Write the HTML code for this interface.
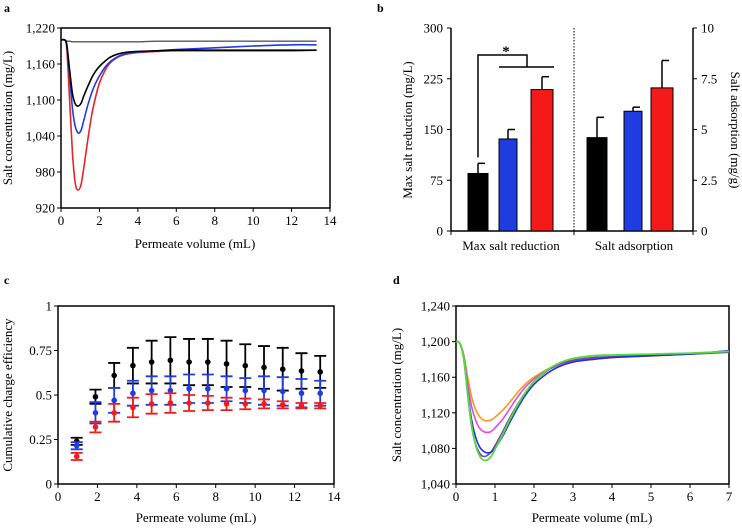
<!DOCTYPE html>
<html><head><meta charset="utf-8"><style>
body{margin:0;background:#fff}
svg{display:block;font-family:"Liberation Serif",serif}
text{fill:#000}
.t{font-size:13px}
</style></head><body>
<svg id="s" width="742" height="531" viewBox="0 0 742 531">
<text x="4" y="12" font-weight="bold" font-size="12">a</text>
<text x="377" y="12" font-weight="bold" font-size="12">b</text>
<text x="4" y="284" font-weight="bold" font-size="12">c</text>
<text x="393" y="284" font-weight="bold" font-size="12">d</text>
</svg>
<script>
// ---- Panel a data ----
const aX=[0,0.2,0.3,0.45,0.6,0.75,0.9,1.05,1.2,1.4,1.6,1.8,2.0,2.3,2.6,3,3.5,4,5,6,8,10,12,13.3];
const aRed=[1200,1200,1185,1100,1010,960,950,960,990,1035,1075,1105,1128,1150,1163,1172,1177,1179,1181,1182,1182,1182,1182,1183];
const aBlue=[1200,1200,1190,1140,1085,1055,1045,1050,1068,1092,1112,1128,1140,1155,1165,1173,1178,1180,1182,1184,1187,1190,1192,1192];
const aBlack=[1200,1200,1192,1150,1110,1093,1090,1095,1108,1123,1137,1148,1156,1165,1172,1177,1180,1181,1182,1183,1183,1183,1183,1183];
const aGray=[1200,1200,1198,1198,1197,1197,1197,1197,1197,1197,1197,1197,1197,1197,1197,1197,1197,1197,1198,1198,1198,1198,1198,1198];
const aYTicks=[920,980,1040,1100,1160,1220];
const aXTicks=[0,2,4,6,8,10,12,14];
// ---- Panel b data ----
const bReduction=[85,136,209];
const bReductionErr=[15,14,19];
const bAdsorption=[4.6,5.9,7.05];
const bAdsorptionErr=[1.0,0.2,1.35];
const bLeftTicks=[0,75,150,225,300];
const bRightTicks=[0,2.5,5,7.5,10];
// ---- Panel c data ----
const cX=[0.95,1.9,2.85,3.8,4.75,5.7,6.65,7.6,8.55,9.5,10.45,11.4,12.35,13.3];
const cBlack=[0.24,0.49,0.61,0.665,0.685,0.695,0.685,0.685,0.675,0.665,0.655,0.645,0.635,0.63];
const cBlackErr=[0.02,0.04,0.07,0.1,0.12,0.13,0.13,0.13,0.13,0.12,0.12,0.12,0.1,0.09];
const cBlue=[0.215,0.40,0.47,0.51,0.525,0.525,0.535,0.535,0.535,0.525,0.525,0.52,0.51,0.51];
const cBlueErr=[0.02,0.06,0.07,0.07,0.08,0.08,0.08,0.08,0.07,0.07,0.08,0.08,0.08,0.07];
const cRed=[0.155,0.32,0.40,0.43,0.45,0.455,0.455,0.455,0.45,0.45,0.45,0.445,0.44,0.44];
const cRedErr=[0.02,0.03,0.05,0.055,0.055,0.055,0.045,0.04,0.035,0.03,0.025,0.02,0.015,0.015];
const cYTicks=[0,0.25,0.5,0.75,1];
const cYLabels=["0","0.25","0.5","0.75","1"];
const cXTicks=[0,2,4,6,8,10,12,14];
// ---- Panel d data ----
const dX=[0,0.1,0.2,0.3,0.4,0.5,0.6,0.7,0.8,0.9,1.0,1.2,1.4,1.6,1.8,2.0,2.3,2.6,3,3.5,4,5,6,7];
const dOrange=[1200,1198,1185,1160,1138,1124,1116,1112,1111,1112,1115,1123,1133,1144,1153,1160,1168,1174,1178,1180,1182,1184,1186,1189];
const dPink=[1200,1198,1183,1153,1127,1112,1103,1099,1098,1099,1103,1113,1126,1139,1150,1158,1167,1173,1178,1181,1183,1185,1186,1189];
const dBlue=[1200,1198,1182,1145,1112,1093,1082,1077,1075,1076,1080,1094,1111,1127,1141,1152,1163,1171,1177,1180,1182,1184,1186,1190];
const dPurple=[1200,1198,1180,1140,1105,1085,1075,1071,1072,1076,1083,1099,1116,1131,1144,1155,1166,1174,1179,1182,1183,1185,1186,1188];
const dGreen=[1200,1198,1181,1142,1106,1084,1072,1067,1067,1071,1079,1096,1114,1130,1144,1155,1167,1175,1181,1184,1185,1186,1187,1189];
const dYTicks=[1040,1080,1120,1160,1200,1240];
const dXTicks=[0,1,2,3,4,5,6,7];

const S=document.getElementById('s');
const NS='http://www.w3.org/2000/svg';
function mk(tag,attrs,txt){const e=document.createElementNS(NS,tag);for(const k in attrs)e.setAttribute(k,attrs[k]);if(txt!==undefined)e.textContent=txt;S.appendChild(e);return e;}
function lin(d0,d1,r0,r1){return v=>r0+(v-d0)/(d1-d0)*(r1-r0);}
function fmt(v){return v>=1000?v.toLocaleString('en-US'):String(v);}
function smooth(xs,ys,sx,sy){
  const p=xs.map((x,i)=>[sx(x),sy(ys[i])]);
  let d='M'+p[0][0].toFixed(1)+','+p[0][1].toFixed(1);
  for(let i=0;i<p.length-1;i++){
    const p0=p[Math.max(0,i-1)],p1=p[i],p2=p[i+1],p3=p[Math.min(p.length-1,i+2)];
    const c1=[p1[0]+(p2[0]-p0[0])/6,p1[1]+(p2[1]-p0[1])/6];
    const c2=[p2[0]-(p3[0]-p1[0])/6,p2[1]-(p3[1]-p1[1])/6];
    d+='C'+c1.map(v=>v.toFixed(1))+' '+c2.map(v=>v.toFixed(1))+' '+p2.map(v=>v.toFixed(1));
  }
  return d;
}
function axes(sx,sy,x0,x1,y0,y1,xt,yt,ylab,pfx,xlab,ylabTitle,xtc,ytc){
  let e=mk('rect',{x:x0,y:y1,width:x1-x0,height:y0-y1,fill:'none',stroke:'#000','stroke-width':1.5});
  
  
  xt.forEach(v=>{const x=sx(v);
    e=mk('line',{x1:x,x2:x,y1:y0,y2:y0+4,stroke:'#000'});
    
    
    e=mk('text',{x:x,y:y0+17,'text-anchor':'middle',class:'t'},String(v));
    
    });
  yt.forEach((v,i)=>{const y=sy(v);
    e=mk('line',{x1:x0-4,x2:x0,y1:y,y2:y,stroke:'#000'});
    
    
    e=mk('text',{x:x0-6,y:y+4.5,'text-anchor':'end',class:'t'},ylab?ylab[i]:fmt(v));
    
    });
  e=mk('text',{x:xtc[0],y:xtc[1],'text-anchor':'middle',class:'t'},xlab);
  
  
  e=mk('text',{x:0,y:0,'text-anchor':'middle',class:'t',transform:`translate(${ytc[0]},${ytc[1]}) rotate(-90)`},ylabTitle);
  
  
}
function curve(xs,ys,sx,sy,color,name,w){
  const e=mk('path',{d:smooth(xs,ys,sx,sy),fill:'none',stroke:color,'stroke-width':w||1.6});
  
  
}
// Panel a
(function(){
  const sx=lin(0,14,61,330), sy=lin(920,1220,208,28);
  axes(sx,sy,61,330,208,28,aXTicks,aYTicks,null,'a','Permeate volume (mL)','Salt concentration (mg/L)',[195,248],[12,118]);
  curve(aX,aGray,sx,sy,'#556','a-series-gray',1.4);
  curve(aX,aRed,sx,sy,'#e8232a','a-series-red');
  curve(aX,aBlue,sx,sy,'#1f3ce0','a-series-blue');
  curve(aX,aBlack,sx,sy,'#000','a-series-black');
})();
// Panel b
(function(){
  const x0=451,x1=693,y0=231,y1=28;
  const sl=lin(0,300,y0,y1), sr=lin(0,10,y0,y1);
  let e;
  e=mk('line',{x1:x0,x2:x0,y1:y1,y2:y0,stroke:'#000','stroke-width':1.5});
  
  
  e=mk('line',{x1:x1,x2:x1,y1:y1,y2:y0,stroke:'#000','stroke-width':1.5});
  
  
  e=mk('line',{x1:x0,x2:x1,y1:y0,y2:y0,stroke:'#000','stroke-width':1.5});
  
  
  e=mk('line',{x1:574,x2:574,y1:y1,y2:y0,stroke:'#000','stroke-dasharray':'1.5,1.5'});
  
  
  [x0,574,x1].forEach(x=>{e=mk('line',{x1:x,x2:x,y1:y0,y2:y0+4,stroke:'#000'});
    
    });
  bLeftTicks.forEach(v=>{const y=sl(v);
    e=mk('line',{x1:x0-4,x2:x0,y1:y,y2:y,stroke:'#000'});
    
    
    e=mk('text',{x:x0-8,y:y+4.5,'text-anchor':'end',class:'t'},String(v));
    
    });
  bRightTicks.forEach(v=>{const y=sr(v);
    e=mk('line',{x1:x1,x2:x1+4,y1:y,y2:y,stroke:'#000'});
    
    
    e=mk('text',{x:x1+8,y:y+4.5,'text-anchor':'start',class:'t'},String(v));
    
    });
  const colors=['#000','#1f3ce0','#f41a1a'];
  const lc=[478,508,542], rc=[597,633,662], w=[20,18,22];
  function bar(cx,wd,v,er,sc,col,name){
    const top=sc(v), et=sc(v+er);
    let b=mk('line',{x1:cx,x2:cx,y1:et,y2:top,stroke:'#000','stroke-width':1.5});
    
    
    b=mk('line',{x1:cx,x2:cx+7,y1:et,y2:et,stroke:'#000','stroke-width':1.5});
    
    
    b=mk('rect',{x:cx-wd/2,y:top,width:wd,height:y0-top,fill:col,stroke:'#000','stroke-width':1});
    
    
  }
  bReduction.forEach((v,i)=>bar(lc[i],w[i],v,bReductionErr[i],sl,colors[i],'b-reduction-bar-'+i));
  bAdsorption.forEach((v,i)=>bar(rc[i],w[i],v,bAdsorptionErr[i],sr,colors[i],'b-adsorption-bar-'+i));
  e=mk('path',{d:`M${lc[0]},${sl(bReduction[0]+bReductionErr[0])-6}V55H527V67`,fill:'none',stroke:'#000','stroke-width':1.5});
  
  
  e=mk('line',{x1:499,x2:554,y1:67,y2:67,stroke:'#000','stroke-width':1.5});
  
  
  e=mk('text',{x:506,y:56,'text-anchor':'middle','font-size':15,'font-weight':'bold'},'*');
  
  
  e=mk('text',{x:511,y:250,'text-anchor':'middle',class:'t'},'Max salt reduction');
  
  
  e=mk('text',{x:634,y:250,'text-anchor':'middle',class:'t'},'Salt adsorption');
  
  
  e=mk('text',{x:0,y:0,'text-anchor':'middle',class:'t',transform:'translate(412,130) rotate(-90)'},'Max salt reduction (mg/L)');
  
  
  e=mk('text',{x:0,y:0,'text-anchor':'middle',class:'t',transform:'translate(731,130) rotate(90)'},'Salt adsorption (mg/g)');
  
  
})();
// Panel c
(function(){
  const sx=lin(0,14,58,334), sy=lin(0,1,484,306);
  axes(sx,sy,58,334,484,306,cXTicks,cYTicks,cYLabels,'c','Permeate volume (mL)','Cumulative charge efficiency',[196,522],[12,395]);
  function series(vals,errs,col,name){
    vals.forEach((v,i)=>{const x=sx(cX[i]);
      const yt=sy(v+errs[i]), yb=sy(v-errs[i]);
      let e=mk('path',{d:`M${x-6},${yt}H${x+6}M${x},${yt}V${yb}M${x-6},${yb}H${x+6}`,stroke:col,'stroke-width':1.8,fill:'none'});
      
      
      e=mk('circle',{cx:x,cy:sy(v),r:2.8,fill:col});
      
      });
  }
  series(cBlack,cBlackErr,'#000','c-black');
  series(cBlue,cBlueErr,'#1f3ce0','c-blue');
  series(cRed,cRedErr,'#f41a1a','c-red');
})();
// Panel d
(function(){
  const sx=lin(0,7,456,729), sy=lin(1040,1240,484,306);
  axes(sx,sy,456,729,484,306,dXTicks,dYTicks,null,'d','Permeate volume (mL)','Salt concentration (mg/L)',[592,522],[401,395]);
  curve(dX,dOrange,sx,sy,'#f39a1f','d-series-orange');
  curve(dX,dPink,sx,sy,'#e94bd6','d-series-pink');
  curve(dX,dPurple,sx,sy,'#7b3fb0','d-series-purple');
  curve(dX,dBlue,sx,sy,'#2231d8','d-series-blue');
  curve(dX,dGreen,sx,sy,'#55dd3c','d-series-green',1.8);
})();
</script>
</body></html>
